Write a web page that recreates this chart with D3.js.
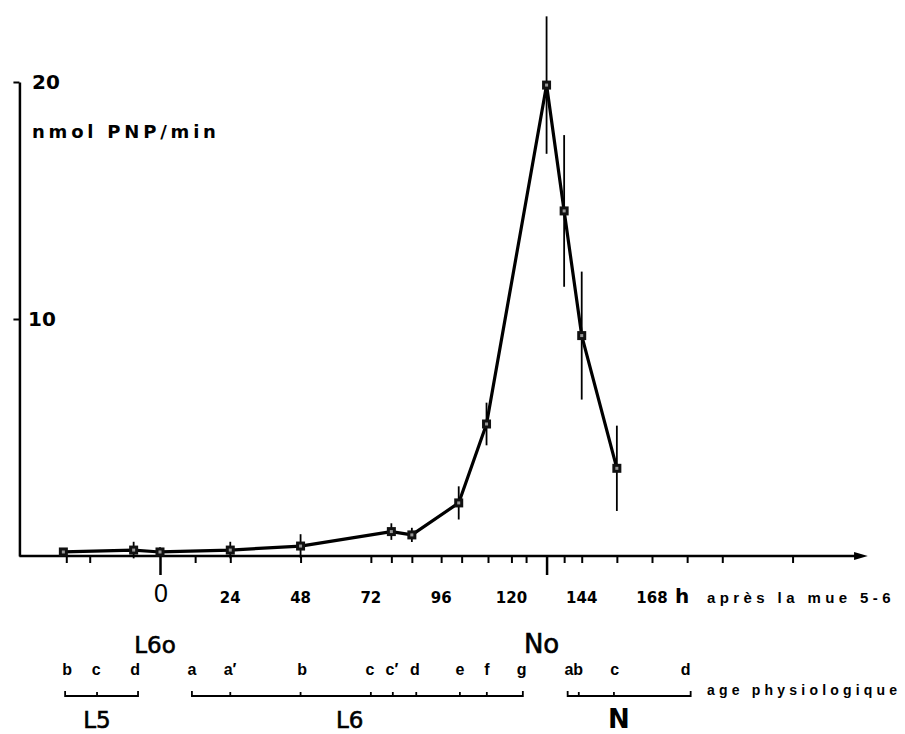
<!DOCTYPE html>
<html>
<head>
<meta charset="utf-8">
<script src="https://cdn.jsdelivr.net/npm/d3@7"></script>
<style>
  body { margin: 0; background: #fff; }
  svg { display: block; }
  text { fill: #000; }
</style>
</head>
<body>
<div id="chart"></div>
<script>
// PNP activity after the 5-6 moult

// hours after moult 5-6, activity (nmol PNP/min) and error bar half-size
const hours = [-33, -9, 0, 24, 48, 79, 86, 102, 111.5, 132, 138, 144, 156];
const activity = [0.17, 0.25, 0.17, 0.25, 0.42, 1.03, 0.89, 2.24, 5.57, 19.87, 14.56, 9.3, 3.7];
const errors = [0.15, 0.35, 0.2, 0.35, 0.5, 0.35, 0.3, 0.7, 0.9, 2.9, 3.2, 2.7, 1.8];

// axis ticks
const hourLabels = [0, 24, 48, 72, 96, 120, 144, 168];
const minorTicks = [-32, -24, 12, 24, 48, 72, 79, 86, 96, 103, 112, 120, 125, 138, 144, 156, 168, 180, 192, 216];
const majorTicks = [0, 132];
const yTicks = [10, 20];

// moults
const moultNames = ["L6o", "No"];
const moultHours = [0, 132];

// physiological age letters
const ageLetters = ["b", "c", "d", "a", "a\u2032", "b", "c", "c\u2032", "d", "e", "f", "g", "ab", "c", "d"];
const ageHours = [-31.7, -21.8, -8.5, 10.9, 23.9, 48.5, 71.7, 79.2, 87, 102.4, 111.6, 123.5, 141.3, 155.3, 179.5];

// stage brackets
const stageNames = ["L5", "L6", "N"];
const stageStart = [-32.4, 10.9, 139.2];
const stageEnd = [-7.5, 123.9, 181.2];
const stageLabelAt = [-21.5, 64.8, 156.7];
const stageTicks = [[-21.5], [24, 48, 72, 79.5, 87.5, 102.4, 111.6], [143, 155]];

const W = 905, H = 734;

const svg = d3.select("#chart")
    .append("svg")
    .attr("width", W)
    .attr("height", H);

const x = d3.scaleLinear().domain([0, 168]).range([160, 652]);
const y = d3.scaleLinear().domain([0, 20]).range([556, 82]);

const bold = "'DejaVu Sans', sans-serif";
const plain = "'Liberation Sans', Arial, sans-serif";

// y axis
const yAxis = svg.append("g")
    .attr("transform", `translate(${x(-48)},0)`)
    .call(d3.axisLeft(y).tickValues(yTicks).tickSize(6).tickSizeOuter(0).tickFormat(""));
yAxis.select(".domain").attr("stroke-width", 2.5);
yAxis.selectAll(".tick line").attr("stroke-width", 2);

svg.selectAll(".ylab")
    .data(yTicks)
    .enter()
    .append("text")
    .attr("class", "ylab")
    .attr("x", d => d === 20 ? 32 : 28)
    .attr("y", d => y(d) + 7)
    .attr("font-family", bold)
    .attr("font-weight", "bold")
    .attr("font-size", 20)
    .text(d => d);

svg.append("text")
    .attr("x", 32)
    .attr("y", 138)
    .attr("font-family", bold)
    .attr("font-weight", "bold")
    .attr("font-size", 18)
    .attr("letter-spacing", 3.8)
    .text("nmol PNP/min");

// x axis line with arrow
svg.append("line")
    .attr("x1", x(-48)).attr("x2", x(239))
    .attr("y1", y(0)).attr("y2", y(0))
    .attr("stroke", "#000")
    .attr("stroke-width", 2.5);
svg.append("path")
    .attr("d", `M${x(237)},${y(0) - 4} L${x(241) + 2},${y(0)} L${x(237)},${y(0) + 4} Z`)
    .attr("fill", "#000");

// minor and major ticks
svg.append("g")
    .attr("transform", `translate(0,${y(0)})`)
    .call(d3.axisBottom(x).tickValues(minorTicks).tickSize(7).tickSizeOuter(0).tickFormat(""))
    .call(g => g.select(".domain").remove())
    .call(g => g.selectAll(".tick line").attr("stroke-width", 2));
svg.append("g")
    .attr("transform", `translate(0,${y(0)})`)
    .call(d3.axisBottom(x).tickValues(majorTicks).tickSize(19).tickSizeOuter(0).tickFormat(""))
    .call(g => g.select(".domain").remove())
    .call(g => g.selectAll(".tick line").attr("stroke-width", 2.5));

// hour labels
svg.selectAll(".hlab")
    .data(hourLabels)
    .enter()
    .append("text")
    .attr("class", "hlab")
    .attr("x", d => x(d) + (d === 0 ? 1 : 0))
    .attr("y", d => d === 0 ? 602 : 603)
    .attr("text-anchor", "middle")
    .attr("font-family", d => d === 0 ? plain : bold)
    .attr("font-weight", d => d === 0 ? "normal" : "bold")
    .attr("font-size", d => d === 0 ? 25 : 15)
    .text(d => d);

svg.append("text")
    .attr("x", 675)
    .attr("y", 603)
    .attr("font-family", bold)
    .attr("font-weight", "bold")
    .attr("font-size", 20)
    .text("h");

svg.append("text")
    .attr("x", 707)
    .attr("y", 603)
    .attr("font-family", plain)
    .attr("font-weight", "bold")
    .attr("font-size", 15)
    .attr("letter-spacing", 4.4)
    .text("après la mue 5-6");

// moult labels
svg.selectAll(".moult")
    .data(moultNames)
    .enter()
    .append("text")
    .attr("class", "moult")
    .attr("x", (d, i) => x(moultHours[i]) - 5)
    .attr("y", 653)
    .attr("text-anchor", "middle")
    .attr("font-family", "'DejaVu Sans', sans-serif")
    .attr("font-size", (d, i) => i === 0 ? 23 : 26)
    .attr("stroke", "#000")
    .attr("stroke-width", 0.6)
    .text(d => d);

// physiological age letters
svg.selectAll(".age")
    .data(ageLetters)
    .enter()
    .append("text")
    .attr("class", "age")
    .attr("x", (d, i) => x(ageHours[i]))
    .attr("y", 675)
    .attr("text-anchor", "middle")
    .attr("font-family", plain)
    .attr("font-weight", "bold")
    .attr("font-size", 16)
    .text(d => d);

svg.append("text")
    .attr("x", 707)
    .attr("y", 695)
    .attr("font-family", plain)
    .attr("font-weight", "bold")
    .attr("font-size", 14)
    .attr("letter-spacing", 4.2)
    .text("age physiologique");

// stage brackets
const by = 696;
stageNames.forEach((name, i) => {
    const g = svg.append("g");
    g.append("path")
        .attr("d", `M${x(stageStart[i])},${by - 5} L${x(stageStart[i])},${by} L${x(stageEnd[i])},${by} L${x(stageEnd[i])},${by - 5}`)
        .attr("fill", "none")
        .attr("stroke", "#000")
        .attr("stroke-width", 1.8);
    g.selectAll("line")
        .data(stageTicks[i])
        .enter()
        .append("line")
        .attr("x1", d => x(d)).attr("x2", d => x(d))
        .attr("y1", by).attr("y2", by - 4)
        .attr("stroke", "#000")
        .attr("stroke-width", 1.8);
    g.append("text")
        .attr("x", x(stageLabelAt[i]))
        .attr("y", 728)
        .attr("text-anchor", "middle")
        .attr("font-family", "'DejaVu Sans', sans-serif")
        .attr("font-weight", i === 2 ? "bold" : "normal")
        .attr("font-size", i === 2 ? 26 : 23)
        .attr("stroke", "#000")
        .attr("stroke-width", i === 2 ? 0 : 0.6)
        .text(name);
});

// error bars
svg.selectAll(".err")
    .data(hours)
    .enter()
    .append("line")
    .attr("class", "err")
    .attr("x1", d => x(d)).attr("x2", d => x(d))
    .attr("y1", (d, i) => y(activity[i] - errors[i]))
    .attr("y2", (d, i) => y(activity[i] + errors[i]))
    .attr("stroke", "#000")
    .attr("stroke-width", 1.8);

// activity line
const line = d3.line()
    .x(d => x(d[0]))
    .y(d => y(d[1]));
svg.append("path")
    .datum(hours.map((h, i) => [h, activity[i]]))
    .attr("d", line)
    .attr("fill", "none")
    .attr("stroke", "#000")
    .attr("stroke-width", 3.2)
    .attr("stroke-linejoin", "round");

// markers
const pts = svg.selectAll(".pt")
    .data(hours)
    .enter()
    .append("g")
    .attr("class", "pt")
    .attr("transform", (d, i) => `translate(${x(d)},${y(activity[i])})`);
pts.append("rect")
    .attr("x", -4.5).attr("y", -4.5)
    .attr("width", 9).attr("height", 9)
    .attr("fill", "#111");
pts.append("rect")
    .attr("x", -1.5).attr("y", -1.5)
    .attr("width", 3).attr("height", 3)
    .attr("fill", "#999");
</script>
</body>
</html>
